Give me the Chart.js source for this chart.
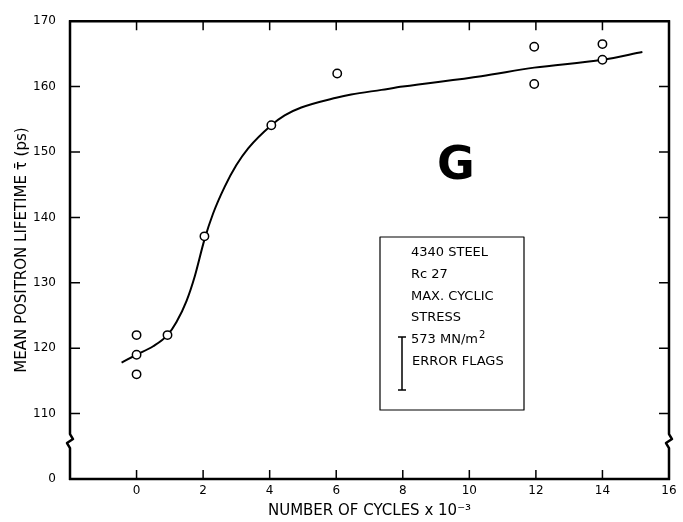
<!DOCTYPE html>
<html>
<head>
<meta charset="utf-8">
<script src="https://cdn.jsdelivr.net/npm/chart.js@4.4.1/dist/chart.umd.min.js"></script>
<style>
    html, body { margin: 0; padding: 0; background: #fff; }
    #wrap { width: 683px; height: 522px; }
</style>
</head>
<body>
<div id="wrap"><canvas id="chart-lifetime"></canvas></div>
<script>
// Measured points: cycles (x 10^3) and mean positron lifetime (ps)
const cyclesMeasured = [0, 0, 0, 0.93, 2.04, 4.05, 6.03, 11.95, 11.95, 14.0, 14.0];
const lifetimeMeasured = [122.0, 119.0, 116.0, 122.0, 137.1, 154.1, 162.0, 166.1, 160.4, 166.5, 164.1];

// Hand-drawn fit curve
const fitCycles = [-0.45, 0, 0.5, 0.93, 1.2, 1.5, 1.75, 2.04, 2.3, 2.64, 3.0, 3.36, 4.05, 4.45, 4.95, 6.0, 6.45, 7.36, 8.0, 10.36, 11.95, 14.0, 15.2];
const fitLifetime = [117.8, 119.0, 120.3, 122.0, 124.0, 127.2, 131.0, 136.6, 140.6, 144.6, 148.0, 150.6, 154.1, 155.6, 156.8, 158.3, 158.8, 159.5, 160.0, 161.6, 162.9, 164.1, 165.3];

// Axis ticks; the bottom of the broken y axis (100) is labelled "0"
const xTicks = [-2, 0, 2, 4, 6, 8, 10, 12, 14, 16];
const yTicks = [100, 110, 120, 130, 140, 150, 160, 170];
const yBreakValue = 105.8;

const legendLines = ['4340 STEEL', 'Rc 27', 'MAX. CYCLIC', 'STRESS'];

const FONT = '"DejaVu Sans", sans-serif';

/**
 * Frame with inward ticks, axis breaks, the note box and the panel letter
 */
const framePlugin = {
    id: 'framePlugin',
    afterDraw(chart) {
        const { ctx, chartArea: a, scales: { x, y } } = chart;
        ctx.save();
        ctx.strokeStyle = '#000';
        ctx.fillStyle = '#000';
        ctx.lineWidth = 2.5;
        ctx.lineJoin = 'round';

        // left and right sides, each with a break
        const yb = y.getPixelForValue(yBreakValue);
        [a.left, a.right].forEach(px => {
            ctx.beginPath();
            ctx.moveTo(px, a.top - 1);
            ctx.lineTo(px, yb - 7);
            ctx.lineTo(px + 3, yb - 2);
            ctx.lineTo(px - 3, yb + 2);
            ctx.lineTo(px, yb + 7);
            ctx.lineTo(px, a.bottom + 1);
            ctx.stroke();
        });
        ctx.beginPath();
        ctx.moveTo(a.left - 1, a.top);
        ctx.lineTo(a.right + 1, a.top);
        ctx.moveTo(a.left - 1, a.bottom);
        ctx.lineTo(a.right + 1, a.bottom);
        ctx.stroke();

        // inward ticks
        ctx.lineWidth = 1.5;
        ctx.beginPath();
        y.ticks.forEach(t => {
            if (t.value <= 100 || t.value >= 170) return;
            const py = y.getPixelForValue(t.value);
            ctx.moveTo(a.left, py); ctx.lineTo(a.left + 10, py);
            ctx.moveTo(a.right, py); ctx.lineTo(a.right - 10, py);
        });
        x.ticks.forEach(t => {
            if (t.value <= -2 || t.value >= 16) return;
            const px = x.getPixelForValue(t.value);
            ctx.moveTo(px, a.bottom); ctx.lineTo(px, a.bottom - 9);
            ctx.moveTo(px, a.top); ctx.lineTo(px, a.top + 9);
        });
        ctx.stroke();

        // note box
        ctx.lineWidth = 1.2;
        ctx.strokeRect(380, 237, 144, 173);
        ctx.font = '13px ' + FONT;
        ctx.textBaseline = 'middle';
        ctx.textAlign = 'left';
        legendLines.forEach((s, i) => ctx.fillText(s, 411, 253 + i * 21.7));
        ctx.fillText('573 MN/m', 411, 340);
        const w = ctx.measureText('573 MN/m').width;
        ctx.font = '10px ' + FONT;
        ctx.fillText('2', 411 + w + 1, 335);
        ctx.font = '13px ' + FONT;
        ctx.fillText('ERROR FLAGS', 412, 362);

        // error flag sample
        ctx.lineWidth = 1.5;
        ctx.beginPath();
        ctx.moveTo(402, 337); ctx.lineTo(402, 390);
        ctx.moveTo(398, 337); ctx.lineTo(406, 337);
        ctx.moveTo(398, 390); ctx.lineTo(406, 390);
        ctx.stroke();

        // panel letter
        ctx.font = 'bold 46px ' + FONT;
        ctx.textAlign = 'center';
        ctx.fillText('G', 456, 167);
        ctx.restore();
    }
};

const ctx = document.getElementById('chart-lifetime').getContext('2d');

new Chart(ctx, {
    type: 'scatter',
    data: {
        datasets: [
            {
                label: 'measured',
                data: cyclesMeasured.map((c, i) => ({ x: c, y: lifetimeMeasured[i] })),
                pointStyle: 'circle',
                pointRadius: 4.2,
                borderColor: '#000',
                backgroundColor: '#fff',
                borderWidth: 1.5,
                order: 0
            },
            {
                label: 'fit',
                data: fitCycles.map((c, i) => ({ x: c, y: fitLifetime[i] })),
                showLine: true,
                pointRadius: 0,
                borderColor: '#000',
                borderWidth: 2,
                cubicInterpolationMode: 'monotone',
                fill: false,
                order: 1
            }
        ]
    },
    options: {
        responsive: true,
        maintainAspectRatio: false,
        animation: false,
        layout: { padding: { top: 14, right: 14, bottom: 0, left: 0 } },
        plugins: {
            legend: { display: false },
            tooltip: { enabled: false }
        },
        scales: {
            x: {
                type: 'linear',
                min: -2,
                max: 16,
                afterBuildTicks: (scale) => { scale.ticks = xTicks.map(v => ({ value: v })); },
                afterFit: (scale) => { scale.height = 43; },
                grid: { display: false, drawTicks: false },
                border: { display: false },
                ticks: {
                    color: '#000',
                    padding: 5,
                    maxRotation: 0,
                    font: { family: FONT, size: 12 },
                    callback: (v) => (v < 0 ? '' : String(v))
                },
                title: {
                    display: true,
                    text: 'NUMBER OF CYCLES x 10⁻³',
                    color: '#000',
                    font: { family: FONT, size: 15 },
                    padding: { top: 0, bottom: 2 }
                }
            },
            y: {
                type: 'linear',
                min: 100,
                max: 170,
                afterBuildTicks: (scale) => { scale.ticks = yTicks.map(v => ({ value: v })); },
                afterFit: (scale) => { scale.width = 70; },
                grid: { display: false, drawTicks: false },
                border: { display: false },
                ticks: {
                    color: '#000',
                    padding: 14,
                    font: { family: FONT, size: 12 },
                    callback: (v) => (v === 100 ? '0' : String(v))
                },
                title: {
                    display: true,
                    text: 'MEAN POSITRON LIFETIME τ\u0304 (ps)',
                    color: '#000',
                    font: { family: FONT, size: 15 },
                    padding: { top: 13, bottom: 0 }
                }
            }
        }
    },
    plugins: [framePlugin]
});
</script>
</body>
</html>
